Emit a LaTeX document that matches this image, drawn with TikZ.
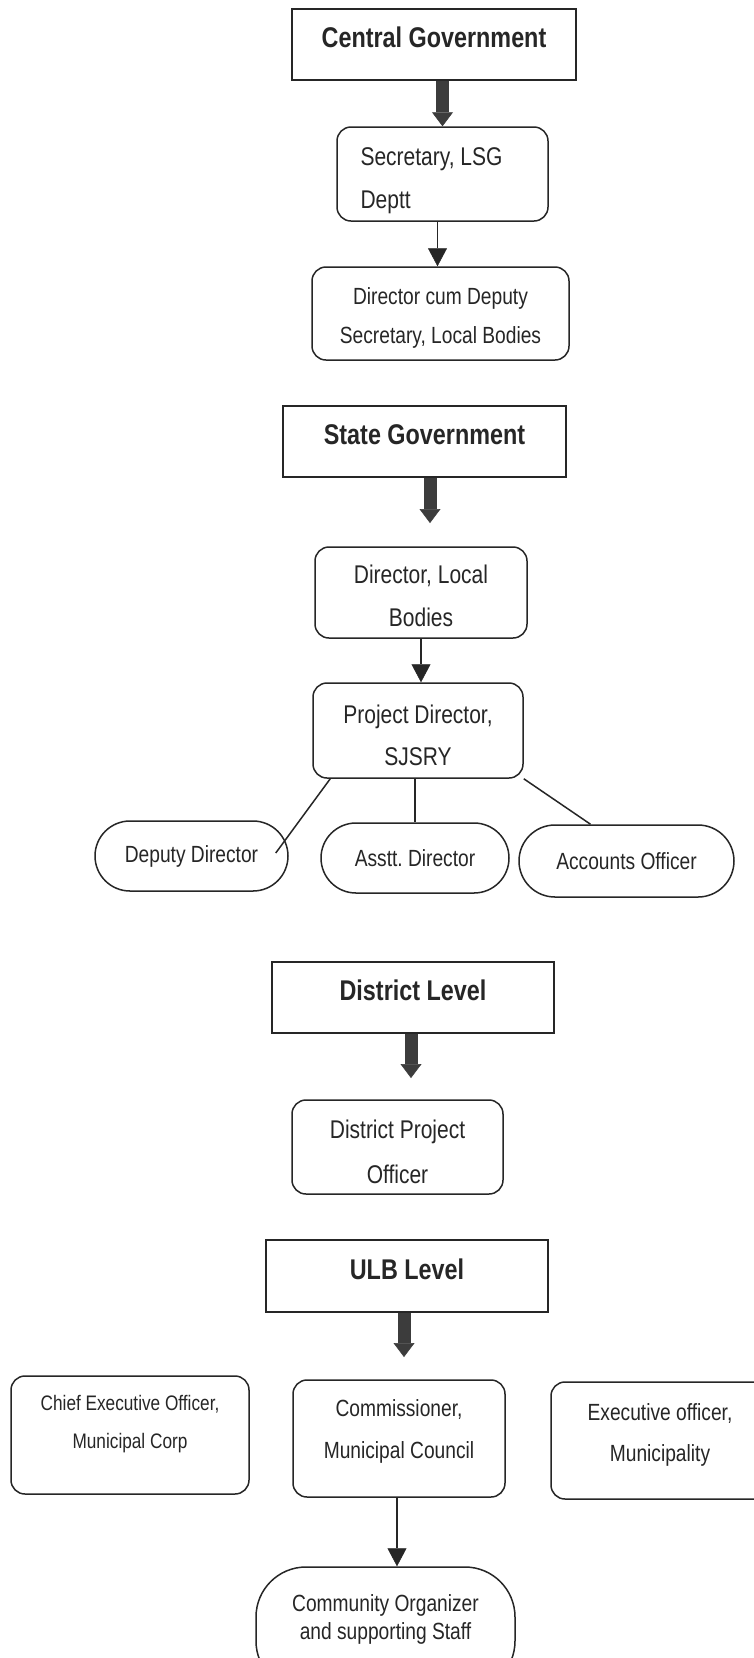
\documentclass[tikz,border=0pt]{standalone}
\usepackage{fontspec}
\setmainfont{Liberation Sans}[FakeStretch=0.82]
\usetikzlibrary{arrows.meta}
\frenchspacing

\definecolor{inkgray}{HTML}{262626}
\definecolor{arrowgray}{HTML}{3C3C3C}

\tikzset{
	levelbox/.style={draw=inkgray, line width=1.5pt, minimum height=71pt, text depth=14pt,
		font=\fontsize{28.5}{34}\selectfont\bfseries},
	postbox/.style={draw=inkgray, line width=1.5pt, rounded corners=14pt, align=center, inner sep=0pt},
	pill/.style={draw=inkgray, line width=1.5pt, rounded corners=35pt, minimum height=70pt,
		font=\fontsize{23.4}{28}\selectfont},
	bigarrow/.style={draw=arrowgray, line width=13pt, -{Triangle[width=21pt,length=14pt,line width=0.5pt]}},
	smallarrow/.style={draw=inkgray, line width=1.5pt, -{Triangle[width=19pt,length=18pt,line width=0.5pt]}},
	branch/.style={draw=inkgray, line width=1.5pt}
}

\begin{document}
\begin{tikzpicture}[x=1pt, y=-1pt, text=inkgray]
	\useasboundingbox (0,0) rectangle (754,1658);
	\fill[white] (0,0) rectangle (754,1658);
	\clip (0,0) rectangle (754,1658);

	% Central government
	\node[levelbox, minimum width=284pt] (central) at (434,44.5) {Central Government};
	\node[postbox, minimum width=211pt, minimum height=94pt, text width=164pt, align=flush left, text depth=34pt,
		font=\fontsize{25.6}{43}\selectfont] (secretary) at (442.5,174) {Secretary, LSG\\Deptt};
	\node[postbox, minimum width=257pt, minimum height=93pt, text height=65pt,
		font=\fontsize{23.4}{39}\selectfont] (dircum) at (440.5,313.5) {Director cum Deputy\\Secretary, Local Bodies};

	% State government
	\node[levelbox, minimum width=283pt] (state) at (424.5,441.5) {State Government};
	\node[postbox, minimum width=212pt, minimum height=91pt, text height=69pt,
		font=\fontsize{25.6}{43}\selectfont] (dirlocal) at (421,592.5) {Director, Local\\Bodies};
	\node[postbox, minimum width=210pt, minimum height=95pt, text height=71pt,
		font=\fontsize{25.6}{42}\selectfont] (projdir) at (418,730.5) {Project Director,\\SJSRY};

	% Officers under the project director
	\node[pill, minimum width=193pt] (deputy) at (191.5,856) {Deputy Director};
	\node[pill, minimum width=188pt] (asstt) at (415,858) {Asstt. Director};
	\node[pill, minimum width=215pt, minimum height=72pt, rounded corners=36pt] (accounts) at (626.5,861) {Accounts Officer};

	% District level
	\node[levelbox, minimum width=282pt] (district) at (413,997.5) {District Level};
	\node[postbox, minimum width=211pt, minimum height=94pt, text height=74pt,
		font=\fontsize{25.6}{45}\selectfont] (dpo) at (397.5,1147) {District Project\\Officer};

	% ULB level
	\node[levelbox, minimum width=282pt, minimum height=72pt] (ulb) at (407,1276) {ULB Level};
	\node[postbox, minimum width=238pt, minimum height=118pt, text depth=26pt,
		font=\fontsize{21}{38}\selectfont] (chief) at (130,1435) {Chief Executive Officer,\\Municipal Corp};
	\node[postbox, minimum width=212pt, minimum height=117pt, text depth=19pt,
		font=\fontsize{23.4}{42}\selectfont] (commissioner) at (399,1438.5) {Commissioner,\\Municipal Council};
	\node[postbox, minimum width=218pt, minimum height=117pt, text depth=16pt,
		font=\fontsize{23.4}{41}\selectfont] (executive) at (660,1440.5) {Executive officer,\\Municipality};
	\node[postbox, minimum width=259pt, minimum height=124pt, rounded corners=50pt, text depth=24pt,
		font=\fontsize{23.4}{28}\selectfont] (community) at (385.5,1629) {Community Organizer\\and supporting Staff};

	% Thick arrows below the level boxes
	\coordinate (statetip) at (430,523);
	\coordinate (districttip) at (411,1078);
	\coordinate (ulbtip) at (404,1357);
	\draw[bigarrow] (secretary.north |- central.south) -- (secretary.north);
	\draw[bigarrow] (state.south -| statetip) -- (statetip);
	\draw[bigarrow] (district.south -| districttip) -- (districttip);
	\draw[bigarrow] (ulb.south -| ulbtip) -- (ulbtip);

	% Thin arrows
	\draw[smallarrow] ([xshift=-5pt]secretary.south) -- ([xshift=-5pt]secretary.south |- dircum.north);
	\draw[smallarrow] (dirlocal.south) -- (dirlocal.south |- projdir.north);
	\draw[smallarrow] ([xshift=-2pt]commissioner.south) -- ([xshift=-2pt]commissioner.south |- community.north);

	% Branches
	\draw[branch] ([xshift=18pt]projdir.south west) -- ([xshift=-13pt,yshift=3pt]deputy.east);
	\draw[branch] (asstt.north |- projdir.south) -- (asstt.north);
	\draw[branch] (projdir.south east) -- ([xshift=-36pt]accounts.north);
\end{tikzpicture}
\end{document}
